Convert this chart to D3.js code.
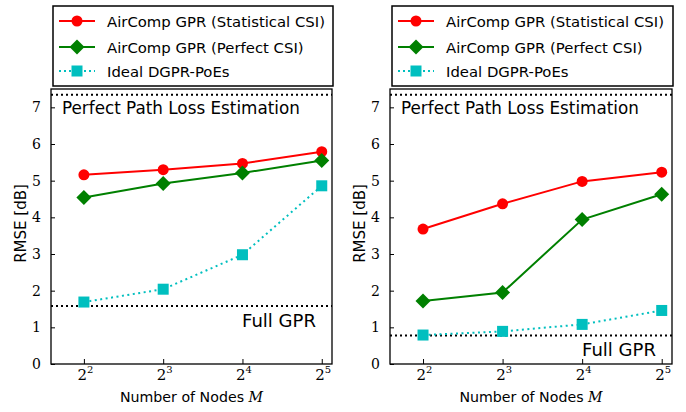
<!DOCTYPE html>
<html>
<head>
<meta charset="utf-8">
<script src="https://cdn.jsdelivr.net/npm/d3@7"></script>
<style>
  body { margin: 0; background: white; }
</style>
</head>
<body>
<div id="plot"></div>
<script>
// chart data
const nodes = [4, 8, 16, 32];
const yTicks = [0, 1, 2, 3, 4, 5, 6, 7];

const leftStat = [5.16, 5.30, 5.47, 5.79];
const leftPerf = [4.54, 4.92, 5.21, 5.55];
const leftIdeal = [1.69, 2.04, 2.98, 4.86];
const leftFull = 1.58;
const leftPathLoss = 7.34;

const rightStat = [3.68, 4.37, 4.98, 5.23];
const rightPerf = [1.72, 1.95, 3.94, 4.63];
const rightIdeal = [0.79, 0.89, 1.08, 1.46];
const rightFull = 0.78;
const rightPathLoss = 7.34;

const seriesNames = ["AirComp GPR (Statistical CSI)", "AirComp GPR (Perfect CSI)", "Ideal DGPR-PoEs"];

const w = 686;
const h = 412;
const sansFont = "'DejaVu Sans', sans-serif";
const serifFont = "'DejaVu Serif', 'Liberation Serif', serif";

const colors = ["#ff0000", "#008000", "#00bfbf"];

const svg = d3.select("div#plot")
      .append("svg")
      .attr("width", w)
      .attr("height", h);

svg.append("rect")
      .attr("width", w)
      .attr("height", h)
      .attr("fill", "white");

// pick a font size so the text is about as wide as in the original
function fitSize(text, family, width) {
  const t = svg.append("text").attr("font-family", family).attr("font-size", 16).text(text);
  const len = t.node().getComputedTextLength();
  t.remove();
  return len > 0 ? 16 * width / len : 16;
}

const legendSize = fitSize(seriesNames[0], sansFont, 218);
const pathLossSize = fitSize("Perfect Path Loss Estimation", sansFont, 238);
const fullSize = fitSize("Full GPR", sansFont, 74);

function drawMarker(g, type, x, y) {
  if (type === 0) {
    g.append("circle").attr("cx", x).attr("cy", y).attr("r", 5.5).attr("fill", colors[0]);
  } else if (type === 1) {
    const s = 7.5;
    g.append("path")
      .attr("d", `M${x},${y - s}L${x + s},${y}L${x},${y + s}L${x - s},${y}Z`)
      .attr("fill", colors[1]);
  } else {
    g.append("rect").attr("x", x - 5.5).attr("y", y - 5.5)
      .attr("width", 11).attr("height", 11).attr("fill", colors[2]);
  }
}

function drawPanel(left, right, series, full, pathLoss) {
  const top = 89, bottom = 364;

  const x = d3.scaleLog().base(2).domain([3, 35]).range([left, right]);
  const y = d3.scaleLinear().domain([0, 7.5]).range([bottom, top]);

  const g = svg.append("g");

  // legend box
  const lg = g.append("g");
  lg.append("rect")
    .attr("x", left + 2).attr("y", 6)
    .attr("width", right - left - 1).attr("height", 80)
    .attr("fill", "white").attr("stroke", "black").attr("stroke-width", 1.5);
  const legY = [21, 47, 71];
  seriesNames.forEach((name, i) => {
    lg.append("line")
      .attr("x1", left + 8).attr("x2", left + 44)
      .attr("y1", legY[i]).attr("y2", legY[i])
      .attr("stroke", colors[i]).attr("stroke-width", 2)
      .attr("stroke-dasharray", i === 2 ? "2,3" : null);
    drawMarker(lg, i, left + 26, legY[i]);
    lg.append("text")
      .attr("x", left + 56).attr("y", legY[i] + 6)
      .attr("font-family", sansFont).attr("font-size", legendSize)
      .text(name);
  });

  // reference lines
  [full, pathLoss].forEach(v => {
    g.append("line")
      .attr("x1", left).attr("x2", right)
      .attr("y1", y(v)).attr("y2", y(v))
      .attr("stroke", "black").attr("stroke-width", 2)
      .attr("stroke-dasharray", "2,3");
  });
  g.append("text")
    .attr("x", left + 11).attr("y", y(pathLoss) + 19)
    .attr("font-family", sansFont).attr("font-size", pathLossSize)
    .text("Perfect Path Loss Estimation");
  g.append("text")
    .attr("x", right - 16).attr("y", y(full) + 21)
    .attr("text-anchor", "end")
    .attr("font-family", sansFont).attr("font-size", fullSize)
    .text("Full GPR");

  // series
  const line = d3.line().x((d, i) => x(nodes[i])).y(d => y(d));
  series.forEach((vals, i) => {
    g.append("path")
      .attr("d", line(vals))
      .attr("fill", "none")
      .attr("stroke", colors[i]).attr("stroke-width", 2)
      .attr("stroke-dasharray", i === 2 ? "2,3.5" : null);
    vals.forEach((v, j) => drawMarker(g, i, x(nodes[j]), y(v)));
  });

  // axes frame
  g.append("rect")
    .attr("x", left).attr("y", top)
    .attr("width", right - left).attr("height", bottom - top)
    .attr("fill", "none").attr("stroke", "black").attr("stroke-width", 1.3);

  // y axis, ticks point inward
  const yAxis = g.append("g")
    .attr("transform", `translate(${left},0)`)
    .call(d3.axisLeft(y).tickValues(yTicks).tickSize(-4).tickPadding(10).tickFormat(d3.format("d")));
  yAxis.select(".domain").remove();
  yAxis.selectAll("text").attr("font-family", serifFont).attr("font-size", 14).attr("fill", "black");

  // x axis, ticks point inward
  const xAxis = g.append("g")
    .attr("transform", `translate(0,${bottom})`)
    .call(d3.axisBottom(x).tickValues(nodes).tickSize(-5).tickFormat(""));
  xAxis.select(".domain").remove();
  xAxis.selectAll(".tick text").remove();
  xAxis.selectAll(".tick").each(function(d) {
    const t = d3.select(this).append("text")
      .attr("y", 16).attr("x", 1).attr("text-anchor", "middle")
      .attr("font-family", serifFont).attr("font-size", 15).attr("fill", "black");
    t.append("tspan").text("2");
    t.append("tspan").attr("dy", -7).attr("font-size", 10).text(Math.log2(d));
  });

  // axis labels
  const xl = g.append("text")
    .attr("x", (left + right) / 2).attr("y", 402)
    .attr("text-anchor", "middle")
    .attr("font-family", sansFont).attr("font-size", 14.2);
  xl.append("tspan").text("Number of Nodes ");
  xl.append("tspan").attr("font-family", serifFont).attr("font-style", "italic").text("M");

  g.append("text")
    .attr("transform", `translate(${left - 25},${(top + bottom) / 2 - 3}) rotate(-90)`)
    .attr("text-anchor", "middle")
    .attr("font-family", sansFont).attr("font-size", 15)
    .text("RMSE [dB]");
}

drawPanel(51, 332, [leftStat, leftPerf, leftIdeal], leftFull, leftPathLoss);
drawPanel(390, 672, [rightStat, rightPerf, rightIdeal], rightFull, rightPathLoss);
</script>
</body>
</html>
